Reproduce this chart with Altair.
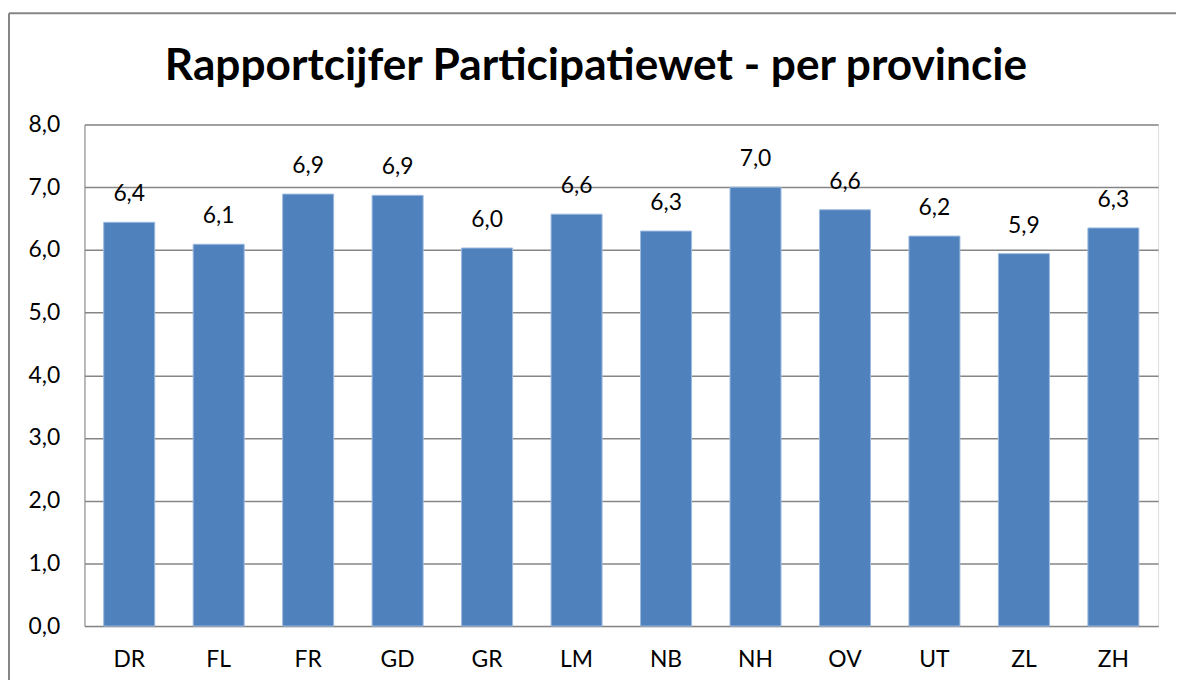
import altair as alt
import pandas as pd

provincies = ["DR", "FL", "FR", "GD", "GR", "LM", "NB", "NH", "OV", "UT", "ZL", "ZH"]
cijfers = [6.44, 6.09, 6.89, 6.87, 6.03, 6.57, 6.30, 7.00, 6.64, 6.22, 5.94, 6.35]
y_ticks = [0, 1, 2, 3, 4, 5, 6, 7, 8]
titel = "Rapportcijfer Participatiewet - per provincie"

df = pd.DataFrame({"provincie": provincies, "cijfer": cijfers})

FONT = "Lato"
GRAY = "#868686"

base = alt.Chart(df)

x_enc = alt.X(
    "provincie:N",
    sort=provincies,
    scale=alt.Scale(paddingInner=0.43, paddingOuter=0.215),
    axis=alt.Axis(
        title=None, labelAngle=0, tickSize=0, domain=True, domainColor=GRAY,
        labelFont=FONT, labelFontSize=23, labelColor="#000000", labelPadding=23,
    ),
)
y_enc = alt.Y(
    "cijfer:Q",
    scale=alt.Scale(domain=[0, 8], nice=False),
    axis=alt.Axis(
        title=None, values=y_ticks, tickSize=0, domain=True, domainColor=GRAY,
        grid=True, gridColor=GRAY, gridWidth=1.5,
        labelExpr="replace(format(datum.value, '.1f'), '.', ',')",
        labelFont=FONT, labelFontSize=23, labelColor="#000000", labelPadding=25,
    ),
)

bars = base.mark_bar(color="#4F81BD", stroke="#9DB9DF", strokeWidth=1).encode(x=x_enc, y=y_enc)

labels = base.transform_calculate(
    lab="replace(format(datum.cijfer, '.1f'), '.', ',')"
).mark_text(font=FONT, fontSize=23, color="#000000", baseline="alphabetic", dy=-21).encode(
    x=alt.X("provincie:N", sort=provincies),
    y=alt.Y("cijfer:Q"),
    text="lab:N",
)

frame_top = alt.Chart(pd.DataFrame({"a": [0]})).mark_rule(stroke=GRAY, strokeWidth=2).encode(
    x=alt.value(-76), x2=alt.value(1300), y=alt.value(-112)
)
frame_left = alt.Chart(pd.DataFrame({"a": [0]})).mark_rule(stroke=GRAY, strokeWidth=2).encode(
    x=alt.value(-76), y=alt.value(-112), y2=alt.value(800)
)

title_df = pd.DataFrame({"t": [titel]})
title_mark = alt.Chart(title_df).mark_text(
    font=FONT, fontSize=44.5, fontWeight="bold", color="#000000",
    baseline="alphabetic", align="center",
).encode(x=alt.value(515), y=alt.value(-45), text="t:N")

chart = alt.layer(frame_top, frame_left, bars, labels, title_mark).properties(
    width=1081,
    height=505,
    padding={"left": 77, "top": 115, "right": 18, "bottom": 52},
    autosize=alt.AutoSizeParams(type="none"),
).configure_view(stroke=None).configure(background="white")

chart.save("out.html", embed_options={"renderer": "svg", "actions": False})
